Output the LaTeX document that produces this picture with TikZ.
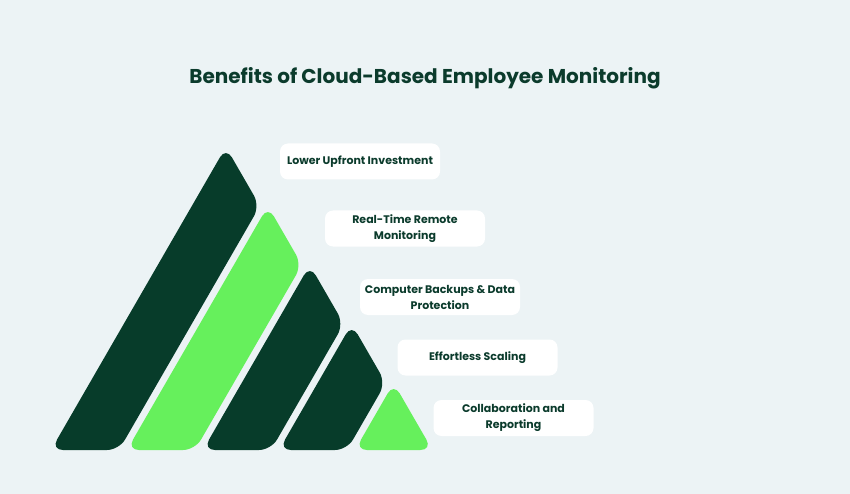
\documentclass[tikz,border=0pt]{standalone}
\usepackage{fontspec}
\setmainfont{Poppins}
\usepackage{xcolor}
\usepackage{tikz}
\usetikzlibrary{shadows}

\definecolor{bgblue}{HTML}{ECF3F5}
\definecolor{darkgreen}{HTML}{073C2A}
\definecolor{lightgreen}{HTML}{66F05C}
\definecolor{textgreen}{HTML}{0B3B2C}

\begin{document}
\begin{tikzpicture}[x=1pt, y=-1pt,
  band/.style={rounded corners=12pt},
  benefit/.style={fill=white, rounded corners=8pt, minimum width=160pt, minimum height=36pt,
    inner sep=0pt, align=center, text=textgreen, font=\bfseries\fontsize{11}{16}\selectfont}]
\fill[bgblue] (0,0) rectangle (850,494);
\useasboundingbox (0,0) rectangle (850,494);
\node[text=textgreen, font=\bfseries\fontsize{20}{24}\selectfont] (title) at (425,78) {Benefits of Cloud-Based Employee Monitoring};
\fill[darkgreen, band] (85,450) -- (51,450) -- (225.9,147) -- (259.9,205.9) -- (119,450) -- cycle;
\fill[lightgreen, band] (161,450) -- (127,450) -- (267.9,206) -- (301.9,264.9) -- (195,450) -- cycle;
\fill[darkgreen, band] (237,450) -- (203,450) -- (309.8,265) -- (343.8,323.9) -- (271,450) -- cycle;
\fill[darkgreen, band] (313,450) -- (279,450) -- (351.7,324) -- (385.7,382.9) -- (347,450) -- cycle;
\fill[lightgreen, band] (393.7,450) -- (355,450) -- (393.7,383) -- (432.4,450) -- cycle;
\node[benefit, drop shadow={shadow xshift=-20pt, shadow yshift=-11pt, shadow scale=0.6, opacity=0.2}] (invest) at (360,161.5) {Lower Upfront Investment};
\node[benefit] (remote) at (405,228.5) {Real-Time Remote\\Monitoring};
\node[benefit] (backup) at (440,297) {Computer Backups \& Data\\Protection};
\node[benefit] (scaling) at (477.5,357.5) {Effortless Scaling};
\node[benefit] (collab) at (513.5,418) {Collaboration and\\Reporting};
\end{tikzpicture}
\end{document}
